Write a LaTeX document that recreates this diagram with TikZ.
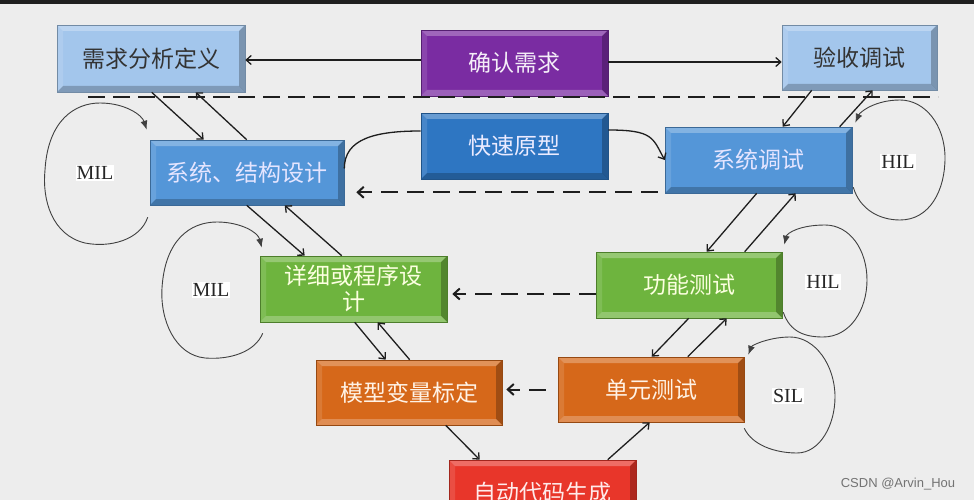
\documentclass[tikz,border=0pt]{standalone}
\usepackage{fontspec}
\newfontfamily\cjk{Noto Sans CJK SC}
\newfontfamily\tnr{Liberation Serif}
\newfontfamily\lsans{Liberation Sans}
\usetikzlibrary{arrows.meta,calc}
\definecolor{bg}{RGB}{237,237,237}
\definecolor{lblue}{RGB}{163,198,236}
\definecolor{mblue}{RGB}{84,150,216}
\definecolor{dblue}{RGB}{46,118,194}
\definecolor{purp}{RGB}{122,44,162}
\definecolor{grn}{RGB}{110,180,62}
\definecolor{orng}{RGB}{214,104,26}
\definecolor{redb}{RGB}{232,54,42}
\definecolor{linec}{RGB}{30,30,30}
\tikzset{
  botband/.style={black,opacity=.22},
  box/.style 2 args={draw=#1!70!black, line width=0.6pt, fill=#1, text=#2,
    minimum width=187pt, minimum height=66pt, inner sep=0pt, align=center,
    font=\cjk\fontsize{23}{26}\selectfont,
    path picture={
      \coordinate (NW) at (path picture bounding box.north west);
      \coordinate (NE) at (path picture bounding box.north east);
      \coordinate (SE) at (path picture bounding box.south east);
      \coordinate (SW) at (path picture bounding box.south west);
      \fill[white,opacity=.28] (NW) -- (NE) -- ($(NE)+(-6pt,-6pt)$) -- ($(NW)+(6pt,-6pt)$) -- cycle;
      \fill[white,opacity=.12] (NW) -- (SW) -- ($(SW)+(6pt,6pt)$) -- ($(NW)+(6pt,-6pt)$) -- cycle;
      \fill[black,opacity=.25] (NE) -- (SE) -- ($(SE)+(-6pt,6pt)$) -- ($(NE)+(-6pt,-6pt)$) -- cycle;
      \fill[botband] (SW) -- (SE) -- ($(SE)+(-6pt,6pt)$) -- ($(SW)+(6pt,6pt)$) -- cycle;
    }},
  arr/.style={draw=linec, line width=1.3pt, -{Straight Barb[length=5pt,width=9pt]}},
  plainline/.style={draw=linec, line width=1.3pt},
  darr/.style={draw=linec, line width=2pt, dash pattern=on 17pt off 9pt, -{Straight Barb[length=6pt,width=11pt]}},
  loopline/.style={draw=linec!85, line width=0.9pt, -{Latex[length=9pt,width=7pt]}},
  xil/.style={font=\tnr\fontsize{20}{20}\selectfont, fill=white, inner sep=1pt, text=black!85},
}
\begin{document}
\begin{tikzpicture}[x=1pt,y=-1pt]
\useasboundingbox (0,0) rectangle (974,500);
\clip (0,0) rectangle (974,500);
\fill[bg] (0,0) rectangle (974,500);
\fill[black!88] (0,0) rectangle (974,4);

% boxes
\node[box={lblue}{black!80}] (req) at (151,58.5) [minimum width=188pt, minimum height=67pt] {需求分析定义};
\node[box={purp}{purp!8}, botband/.style={white,opacity=.25}] (conf) at (514.5,63) {确认需求};
\node[box={lblue}{black!80}] (acc) at (859.5,57.5) [minimum width=155pt, minimum height=65pt] {验收调试};
\node[box={dblue}{white!92!blue}] (fast) at (514.5,146) {快速原型};
\node[box={mblue}{white!90!blue}] (sys) at (247,172.5) [minimum width=194pt, minimum height=65pt] {系统、结构设计};
\node[box={mblue}{white!90!blue}] (systest) at (758.5,160) {系统调试};
\node[box={grn}{green!8!yellow!12}, botband/.style={white,opacity=.25}] (det) at (353.5,289) {详细或程序设\\计};
\node[box={grn}{green!8!yellow!12}, botband/.style={white,opacity=.25}] (func) at (689,285) [minimum width=186pt] {功能测试};
\node[box={orng}{orange!10}, botband/.style={white,opacity=.25}] (model) at (409,392.5) [minimum width=186pt, minimum height=65pt] {模型变量标定};
\node[box={orng}{orange!10}, botband/.style={white,opacity=.25}] (unit) at (651,389.5) [minimum width=186pt, minimum height=65pt] {单元测试};
\node[box={redb}{red!8}, botband/.style={white,opacity=.2}] (auto) at (542.5,493) {自动代码生成};

% dashed separator
\draw[draw=linec, line width=2.4pt, dash pattern=on 17pt off 8pt] (88,97) -- (938,97);

% top arrows
\draw[arr] (conf.west |- 0,60) -- (req.east |- 0,60);
\draw[arr] (conf.east |- 0,62) -- (acc.west |- 0,62);

% V left side
\draw[arr] ([xshift=95pt]req.south west) -- ([xshift=54pt]sys.north west);
\draw[arr] ([xshift=97pt]sys.north west) -- ([xshift=139pt]req.south west);
\draw[arr] ([xshift=97pt]sys.south west) -- ([xshift=45pt]det.north west);
\draw[arr] ([xshift=82pt]det.north west) -- ([xshift=135pt]sys.south west);
\draw[arr] ([xshift=95pt]det.south west) -- ([xshift=70pt]model.north west);
\draw[arr] ([xshift=94pt]model.north west) -- ([xshift=118pt]det.south west);
\draw[arr] ([xshift=130pt]model.south west) -- ([xshift=31pt]auto.north west);

% V right side
\draw[arr] ([xshift=30pt]acc.south west) -- ([xshift=118pt]systest.north west);
\draw[arr] ([xshift=175pt]systest.north west) -- ([xshift=91pt]acc.south west);
\draw[arr] ([xshift=92pt]systest.south west) -- ([xshift=111pt]func.north west);
\draw[arr] ([xshift=149pt]func.north west) -- ([xshift=131pt]systest.south west);
\draw[arr] ([xshift=93pt]func.south west) -- ([xshift=94pt]unit.north west);
\draw[arr] ([xshift=130pt]unit.north west) -- ([xshift=131pt]func.south west);
\draw[arr] ([xshift=159pt]auto.north west) -- ([xshift=92pt]unit.south west);

% dashed feedback arrows
\draw[darr, shorten <=7pt, shorten >=12pt] ([yshift=1pt]systest.south west) -- ([yshift=1pt]systest.south west -| sys.east);
\draw[darr, shorten >=5pt] ([yshift=-9pt]func.west) -- ([yshift=-9pt]func.west -| det.east);
\draw[darr, shorten <=12pt, shorten >=4pt] (unit.west) -- (unit.west -| model.east);

% rapid prototype curves
\draw[plainline] ([yshift=15pt]fast.west) .. controls +(-45pt,0pt) and +(0pt,30pt) .. ([yshift=4pt]sys.east);
\draw[arr] ([yshift=16pt]fast.east) .. controls +(45pt,0pt) and +(-12pt,22pt) .. (systest.west);

% loops
\draw[loopline] ([shift={(-2pt,-12pt)}]sys.south west) .. controls (140,240) and (110,248) .. (85,243)
  .. controls (52,235) and (42,200) .. (45,170)
  .. controls (48,120) and (75,103) .. (100,103)
  .. controls (125,103) and (142,115) .. ([shift={(-3pt,10pt)}]sys.north west);
\draw[loopline] ([shift={(3pt,-11pt)}]det.south west) .. controls (255,352) and (230,360) .. (205,358)
  .. controls (175,355) and (160,320) .. (162,288)
  .. controls (165,240) and (190,222) .. (217,222)
  .. controls (240,222) and (258,232) .. ([shift={(2pt,8pt)}]det.north west);
\draw[loopline] ([shift={(1pt,6pt)}]systest.south east) .. controls (860,210) and (880,220) .. (900,220)
  .. controls (930,220) and (945,190) .. (945,158)
  .. controls (945,125) and (925,100) .. (900,100)
  .. controls (875,100) and (860,112) .. ([shift={(3pt,4pt)}]systest.north east);
\draw[loopline] ([shift={(1pt,6pt)}]func.south east) .. controls (790,332) and (805,337) .. (823,337)
  .. controls (850,337) and (867,310) .. (867,280)
  .. controls (867,250) and (850,225) .. (825,225)
  .. controls (800,225) and (787,233) .. ([shift={(2pt,7pt)}]func.north east);
\draw[loopline] ([shift={(0pt,-6pt)}]unit.south east) .. controls (752,445) and (775,453) .. (797,453)
  .. controls (820,453) and (835,425) .. (835,397)
  .. controls (835,365) and (815,337) .. (790,337)
  .. controls (770,337) and (752,345) .. ([shift={(4pt,2pt)}]unit.north east);

% loop labels
\node[xil] (mil1) at (95,173) {MIL};
\node[xil] (mil2) at (211,290) {MIL};
\node[xil] (hil1) at (898,162) {HIL};
\node[xil] (hil2) at (823,282) {HIL};
\node[xil] (sil) at (788,396) {SIL};

% watermark
\node[font=\lsans\fontsize{13}{13}\selectfont, text=black!55] (wm) at (898,484) {CSDN @Arvin\_Hou};
\end{tikzpicture}
\end{document}
